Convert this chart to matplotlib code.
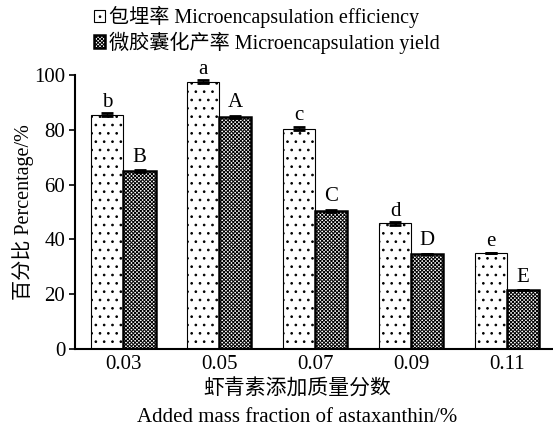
import matplotlib.pyplot as plt
import numpy as np

plt.rcParams['font.family'] = ['Liberation Serif', 'Noto Sans CJK SC']
plt.rcParams['hatch.linewidth'] = 0.7

# 虾青素添加量与包埋率 / 产率
fractions = ['0.03', '0.05', '0.07', '0.09', '0.11']
efficiency = [85.5, 97.5, 80.4, 45.8, 35.2]
efficiency_err = [0.5, 0.5, 0.6, 0.4, 0.0]
yield_ = [65.0, 84.8, 50.5, 34.8, 21.6]
yield_err = [0.4, 0.4, 0.4, 0.0, 0.0]
eff_letters = ['b', 'a', 'c', 'd', 'e']
yield_letters = ['B', 'A', 'C', 'D', 'E']

fig = plt.figure(figsize=(5.53, 4.3), dpi=100)
ax = fig.add_axes([0.1356, 0.1884, 0.8644, 0.6372])

x = np.arange(len(fractions))
w = 0.335

b1 = ax.bar(x - w / 2, efficiency, w, color='white', edgecolor='black',
            linewidth=0.8, hatch='..', label='包埋率 Microencapsulation efficiency')
b2 = ax.bar(x + w / 2, yield_, w, color='white', edgecolor='black',
            linewidth=1.8, hatch='xxxxxxxxx', label='微胶囊化产率 Microencapsulation yield')
ax.errorbar(x - w / 2, efficiency, yerr=efficiency_err, fmt='none',
            ecolor='black', capsize=4.3, capthick=2, elinewidth=1)
ax.errorbar(x + w / 2, yield_, yerr=yield_err, fmt='none',
            ecolor='black', capsize=4.3, capthick=2, elinewidth=1)

for i in range(len(fractions)):
    ax.text(x[i] - w / 2, efficiency[i] + efficiency_err[i] + 2.5, eff_letters[i],
            ha='center', va='baseline', fontsize=15)
    ax.text(x[i] + w / 2, yield_[i] + yield_err[i] + 3.0, yield_letters[i],
            ha='center', va='baseline', fontsize=15)

ax.set_xlim(-0.506, 4.48)
ax.set_ylim(0, 100)
ax.set_yticks(range(0, 101, 20))
ax.set_xticks(x)
ax.set_xticklabels(fractions)
ax.tick_params(axis='x', length=0, labelsize=15, pad=4)
ax.tick_params(axis='y', direction='out', length=4, width=1.2, labelsize=15, pad=3)
for s in ['top', 'right']:
    ax.spines[s].set_visible(False)
for s in ['left', 'bottom']:
    ax.spines[s].set_linewidth(1.5)

ax.set_ylabel('百分比 Percentage/%', fontsize=14.5)
ax.yaxis.set_label_coords(-0.085, 0.5)
fig.text(0.538, 0.095, '虾青素添加质量分数', ha='center', va='center', fontsize=15)
fig.text(0.538, 0.03, 'Added mass fraction of astaxanthin/%', ha='center',
         va='center', fontsize=15)

fig.legend(handles=[b1, b2], loc='upper left', bbox_to_anchor=(0.145, 1.018),
           frameon=False, fontsize=14.5, handlelength=0.55, handleheight=0.55,
           handletextpad=0.2, labelspacing=0.15, borderaxespad=0.3)

fig.savefig('out.png', dpi=100)
